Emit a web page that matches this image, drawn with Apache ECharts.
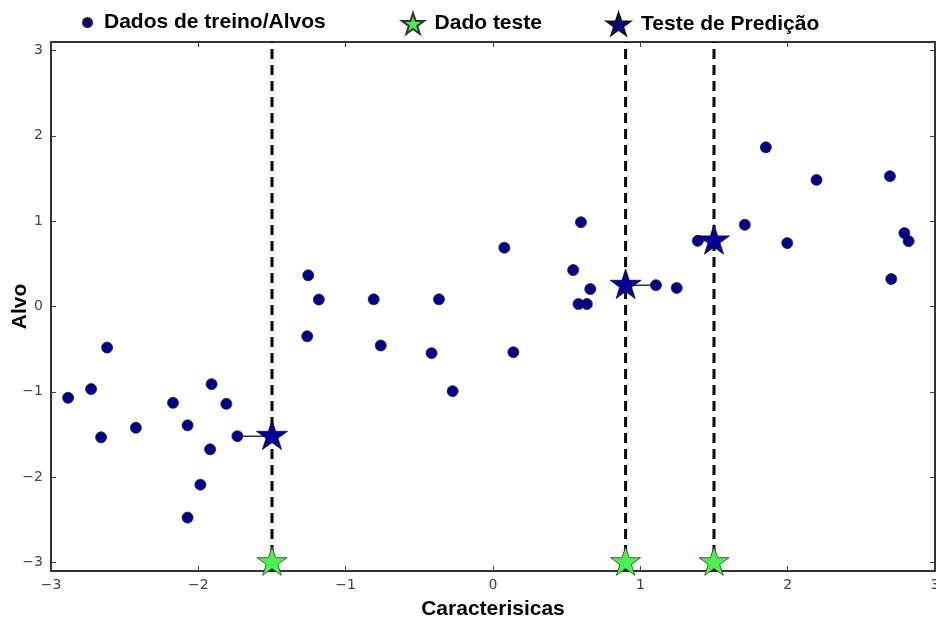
<!DOCTYPE html>
<html>
<head>
<meta charset="utf-8">
<script src="https://cdn.jsdelivr.net/npm/echarts@6/dist/echarts.min.js"></script>
<style>
  html, body { margin: 0; padding: 0; background: #fff; }
  #chart { width: 936px; height: 619px; }
</style>
</head>
<body>
<div id="chart"></div>
<script>
// Training samples (feature, target)
const trainX = [
  -2.884, -2.728, -2.619, -2.660, -2.424, -2.172, -2.073, -1.910, -1.810, -1.920,
  -1.986, -2.073, -1.735,
  -1.254, -1.182, -0.810, -0.367, -1.261, -0.762, -0.417, 0.138, -0.274, 0.077,
  0.597, 0.544, 0.660, 0.580, 0.637,
  1.106, 1.247, 1.390, 1.709, 1.852, 1.997, 2.196, 2.694, 2.703, 2.792, 2.821
];
const trainY = [
  -1.070, -0.968, -0.481, -1.533, -1.421, -1.129, -1.393, -0.910, -1.140, -1.674,
  -2.088, -2.474, -1.52,
  0.365, 0.081, 0.084, 0.084, -0.349, -0.457, -0.547, -0.536, -0.992, 0.689,
  0.988, 0.427, 0.205, 0.029, 0.029,
  0.25, 0.217, 0.77, 0.958, 1.866, 0.743, 1.484, 1.527, 0.322, 0.860, 0.766
];

// Query points and their predicted targets
const testX = [-1.5, 0.9, 1.5];
const testY = [-3, -3, -3];
const predY = [-1.52, 0.25, 0.77];

// Axis extents and ticks
const xMin = -3, xMax = 3;
const yMin = -3.1, yMax = 3.1;
const xTicks = [-3, -2, -1, 0, 1, 2, 3];
const yTicks = [-3, -2, -1, 0, 1, 2, 3];

const legendNames = ['Dados de treino/Alvos', 'Dado teste', 'Teste de Predição'];

const STAR = 'path://M0,-100 L22.45,-30.9 L95.11,-30.9 L36.33,11.8 L58.78,80.9 L0,38.2 L-58.78,80.9 L-36.33,11.8 L-95.11,-30.9 L-22.45,-30.9 Z';
const minus = v => String(v).replace('-', '\u2212');

// nearest training sample for each query point
function nearest(x) {
  let best = 0;
  for (let i = 1; i < trainX.length; i++) {
    if (Math.abs(trainX[i] - x) < Math.abs(trainX[best] - x)) best = i;
  }
  return best;
}

const series = [];

// dashed guides through each query point
testX.forEach((x, i) => {
  series.push({
    type: 'line', name: 'guide' + i, silent: true, symbol: 'none', z: 1,
    data: [[x, yMin], [x, yMax]],
    lineStyle: { color: '#000', width: 3, type: [10, 6] }
  });
});

// connector from prediction to its neighbour
testX.forEach((x, i) => {
  const k = nearest(x);
  series.push({
    type: 'line', name: 'nb' + i, silent: true, symbol: 'none', z: 2,
    data: [[trainX[k], trainY[k]], [x, predY[i]]],
    lineStyle: { color: '#333', width: 1.5 }
  });
});

series.push({
  type: 'scatter', name: legendNames[0], z: 3,
  data: trainX.map((x, i) => [x, trainY[i]]),
  symbol: 'circle', symbolSize: 11,
  itemStyle: { color: '#00008f', borderColor: '#222', borderWidth: 0.8, opacity: 1 }
});

series.push({
  type: 'scatter', name: legendNames[1], z: 4, clip: false,
  data: testX.map((x, i) => [x, testY[i]]),
  symbol: STAR, symbolSize: [30, 28.5], symbolOffset: [0, -1.4],
  itemStyle: { color: '#4cf24c', borderColor: '#333', borderWidth: 0.8, opacity: 1 }
});

series.push({
  type: 'scatter', name: legendNames[2], z: 5, clip: false,
  data: testX.map((x, i) => [x, predY[i]]),
  symbol: STAR, symbolSize: [31, 29.5], symbolOffset: [0, -1.4],
  itemStyle: { color: '#000099', borderColor: '#111', borderWidth: 0.8, opacity: 1 }
});

function legendItem(name, left, icon, w, h, gap) {
  return {
    data: [{ name: name, icon: icon }], left: left, top: 7,
    itemWidth: w, itemHeight: h, itemGap: 6, selectedMode: false,
    textStyle: {
      fontFamily: 'Liberation Sans', fontWeight: 'bold', fontSize: 21, color: '#000',
      padding: [0, 0, 0, gap]
    }
  };
}

const tickStyle = { lineStyle: { color: '#444', width: 1 } };
const labelFont = { fontFamily: 'DejaVu Sans', fontSize: 14, color: '#444' };
const hiddenLine = { show: false, onZero: false };
const nameFont = { fontFamily: 'Liberation Sans', fontWeight: 'bold', fontSize: 21, color: '#000' };

const chart = echarts.init(document.getElementById('chart'), null, { renderer: 'canvas' });
chart.setOption({
  animation: false,
  backgroundColor: '#fff',
  grid: {
    left: 51, right: 1, top: 42, bottom: 48,
    outerBoundsMode: 'none', containLabel: false,
    show: true, borderColor: '#333', borderWidth: 2, backgroundColor: 'transparent'
  },
  legend: [
    legendItem(legendNames[0], 77, 'circle', 9, 9, 7),
    legendItem(legendNames[1], 396, STAR, 25, 21, 4),
    legendItem(legendNames[2], 601, STAR, 27, 22, 4)
  ],
  xAxis: [{
    type: 'value', min: xMin, max: xMax,
    name: 'Caracterisicas', nameLocation: 'middle', nameGap: 28, nameMoveOverlap: false,
    nameTextStyle: nameFont,
    axisLine: hiddenLine,
    axisTick: { show: true, inside: true, length: 5, customValues: xTicks, ...tickStyle },
    axisLabel: { margin: 7, customValues: xTicks, formatter: minus, ...labelFont },
    splitLine: { show: false }
  }, {
    type: 'value', min: xMin, max: xMax, position: 'top',
    axisLine: hiddenLine,
    axisTick: { show: true, inside: true, length: 5, customValues: xTicks, ...tickStyle },
    axisLabel: { show: false }, splitLine: { show: false }
  }],
  yAxis: [{
    type: 'value', min: yMin, max: yMax,
    name: 'Alvo', nameLocation: 'middle', nameGap: 20, nameRotate: 90, nameMoveOverlap: false,
    nameTextStyle: nameFont,
    axisLine: hiddenLine,
    axisTick: { show: true, inside: true, length: 5, customValues: yTicks, ...tickStyle },
    axisLabel: { margin: 8, customValues: yTicks, formatter: minus, ...labelFont },
    splitLine: { show: false }
  }, {
    type: 'value', min: yMin, max: yMax, position: 'right',
    axisLine: hiddenLine,
    axisTick: { show: true, inside: true, length: 5, customValues: yTicks, ...tickStyle },
    axisLabel: { show: false }, splitLine: { show: false }
  }],
  series: series
});
</script>
</body>
</html>
